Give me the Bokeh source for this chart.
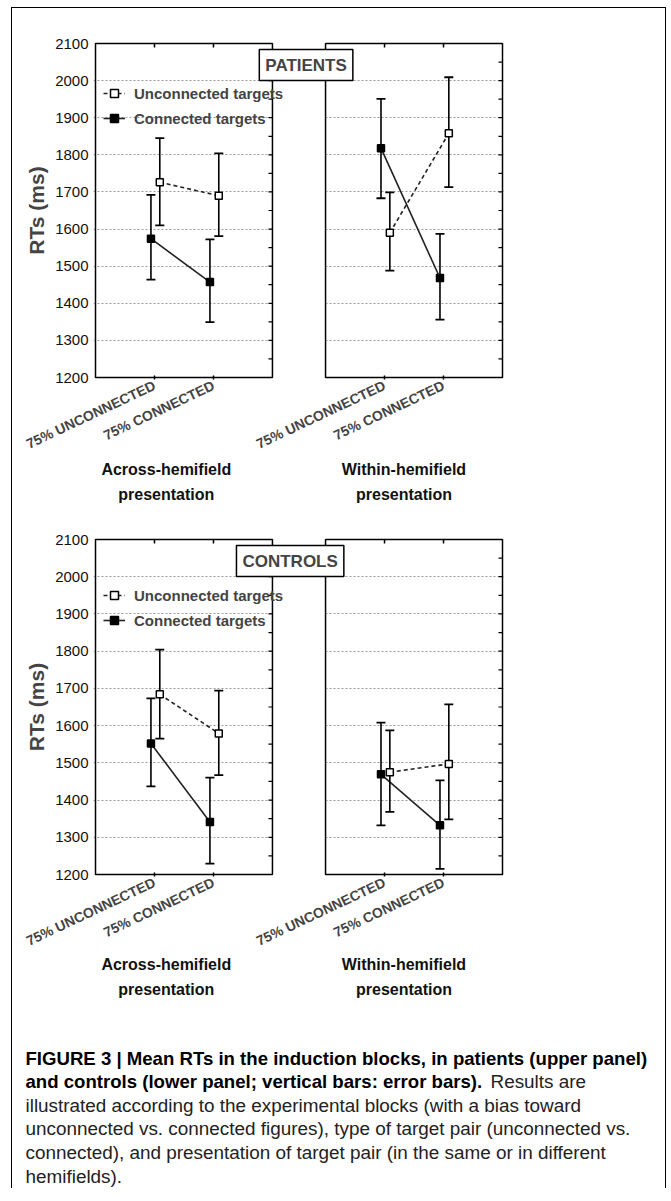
import numpy as np
from bokeh.plotting import figure
from bokeh.models import Range1d, FixedTicker, Label, Legend, LegendItem, LinearAxis
from bokeh.layouts import column
from bokeh.embed import file_html
from bokeh.resources import INLINE

# ---------------- data ----------------
block_labels = ["75% UNCONNECTED", "75% CONNECTED"]
presentation_labels = ["Across-hemifield\npresentation", "Within-hemifield\npresentation"]
series_labels = ["Unconnected targets", "Connected targets"]
group_titles = ["PATIENTS", "CONTROLS"]
y_tick_values = [1200, 1300, 1400, 1500, 1600, 1700, 1800, 1900, 2000, 2100]
grid_values = [1300, 1400, 1500, 1600, 1700, 1800, 1900, 2000]
y_axis_title = "RTs (ms)"

# order: across/75% unconnected, across/75% connected, within/75% unconnected, within/75% connected
pat_unc = [1726, 1690, 1590, 1858]
pat_unc_lo = [1610, 1581, 1488, 1713]
pat_unc_hi = [1845, 1804, 1699, 2009]
pat_con = [1574, 1457, 1818, 1468]
pat_con_lo = [1464, 1349, 1683, 1356]
pat_con_hi = [1692, 1572, 1951, 1587]

ctl_unc = [1684, 1579, 1475, 1497]
ctl_unc_lo = [1565, 1467, 1368, 1348]
ctl_unc_hi = [1804, 1694, 1587, 1657]
ctl_con = [1552, 1341, 1469, 1332]
ctl_con_lo = [1437, 1229, 1332, 1215]
ctl_con_hi = [1673, 1460, 1608, 1453]

caption_lines = [
    ("FIGURE 3 | Mean RTs in the induction blocks, in patients (upper panel)", ""),
    ("and controls (lower panel; vertical bars: error bars).", "Results are"),
    ("", "illustrated according to the experimental blocks (with a bias toward"),
    ("", "unconnected vs. connected figures), type of target pair (unconnected vs."),
    ("", "connected), and presentation of target pair (in the same or in different"),
    ("", "hemifields)."),
]

# ---------------- layout / style ----------------
FONT = "Liberation Sans"
FIG_W = 653
PANEL_W_PX = 407
PAD_PX = 2
LEFT = 81
FRAME_W = PANEL_W_PX + 2 * PAD_PX
RIGHT = FIG_W - LEFT - FRAME_W
X_END = 6.9
LEFT_PANEL = (0.0, 3.0)
RIGHT_PANEL = (3.9, 6.9)
slot_x = [1.0, 2.0, 4.9, 5.9]
pres_x = [1.2, 5.23]
OFF_UNC = 0.09
OFF_CON = -0.06
TITLE_PAD = 6


def make_panel(title, title_x, unc, unc_lo, unc_hi, con, con_lo, con_hi,
               fig_h, top_px, panel_h, pres_standoff, legend_top_px):
    ux = X_END / PANEL_W_PX
    uy = 900.0 / panel_h
    xpad = PAD_PX * ux
    ypad = PAD_PX * uy
    frame_h = panel_h + 2 * PAD_PX
    p = figure(width=FIG_W, height=fig_h,
               x_range=Range1d(-xpad, X_END + xpad),
               y_range=Range1d(1200 - ypad, 2100 + ypad),
               output_backend="svg", toolbar_location=None,
               min_border_left=int(LEFT), min_border_right=int(RIGHT),
               min_border_top=int(top_px - PAD_PX),
               min_border_bottom=int(fig_h - (top_px - PAD_PX) - frame_h))
    p.outline_line_color = None
    p.background_fill_color = "white"
    p.border_fill_color = "white"

    p.xgrid.visible = False
    p.ygrid.ticker = FixedTicker(ticks=grid_values)
    p.ygrid.grid_line_color = "#9c9c9c"
    p.ygrid.grid_line_dash = "2 2"
    p.ygrid.grid_line_width = 1

    ya = p.yaxis[0]
    ya.ticker = FixedTicker(ticks=y_tick_values)
    ya.axis_line_color = None
    ya.major_tick_line_color = None
    ya.minor_tick_line_color = None
    ya.major_tick_out = 0
    ya.major_tick_in = 0
    ya.minor_tick_out = 0
    ya.major_label_standoff = 5
    ya.major_label_text_font = FONT
    ya.major_label_text_font_size = "15px"
    ya.major_label_text_color = "#111111"
    ya.axis_label = y_axis_title
    ya.axis_label_text_font = FONT
    ya.axis_label_text_font_style = "bold"
    ya.axis_label_text_font_size = "21px"
    ya.axis_label_standoff = 4

    xa = p.xaxis[0]
    xa.ticker = FixedTicker(ticks=slot_x)
    xa.major_label_overrides = {slot_x[0]: block_labels[0], slot_x[1]: block_labels[1],
                                slot_x[2]: block_labels[0], slot_x[3]: block_labels[1]}
    xa.major_label_orientation = 0.44
    xa.axis_line_color = None
    xa.major_tick_in = 4
    xa.major_tick_out = 0
    xa.major_tick_line_width = 1.5
    xa.minor_tick_line_color = None
    xa.minor_tick_out = 0
    xa.major_label_standoff = 5
    xa.major_label_text_font = FONT
    xa.major_label_text_font_style = "bold"
    xa.major_label_text_font_size = "14px"

    # second bottom axis carrying the presentation captions
    xa2 = LinearAxis(ticker=FixedTicker(ticks=pres_x),
                     major_label_overrides={pres_x[0]: presentation_labels[0],
                                            pres_x[1]: presentation_labels[1]},
                     axis_line_color=None, major_tick_line_color=None,
                     major_tick_out=0, major_tick_in=0, minor_tick_out=0,
                     minor_tick_line_color=None, major_label_standoff=pres_standoff,
                     major_label_text_font=FONT, major_label_text_font_style="bold",
                     major_label_text_font_size="16px", major_label_text_color="#111111",
                     major_label_text_line_height=1.5)
    p.add_layout(xa2, "below")

    # mask the gap between the two sub-panels
    p.quad(left=[LEFT_PANEL[1]], right=[RIGHT_PANEL[0]], bottom=[1200 - ypad], top=[2100 + ypad],
           fill_color="white", line_color=None)
    # sub-panel frames
    p.quad(left=[LEFT_PANEL[0], RIGHT_PANEL[0]], right=[LEFT_PANEL[1], RIGHT_PANEL[1]],
           bottom=[1200, 1200], top=[2100, 2100], fill_color=None,
           line_color="black", line_width=1.5)
    # small inner ticks on right edges and top edges
    minor_vals = [float(v) for v in np.arange(1250, 2100, 50)]
    for edge in (LEFT_PANEL[1], RIGHT_PANEL[1]):
        p.segment(x0=[edge - 4 * ux] * len(minor_vals), x1=[edge] * len(minor_vals),
                  y0=minor_vals, y1=minor_vals, line_color="black", line_width=1.2)
    p.segment(x0=slot_x, x1=slot_x, y0=[2100] * 4, y1=[2100 - 4 * uy] * 4,
              line_color="black", line_width=1.5)

    xu = [s + OFF_UNC for s in slot_x]
    xc = [s + OFF_CON for s in slot_x]

    lines_unc = []
    lines_con = []
    for k in (0, 1):
        sl = slice(2 * k, 2 * k + 2)
        lines_unc.append(p.line(x=xu[sl], y=unc[sl], line_color="#222222", line_width=1.6,
                                line_dash="4 3"))
        lines_con.append(p.line(x=xc[sl], y=con[sl], line_color="#222222", line_width=1.6))

    # error bars
    p.segment(x0=xu, x1=xu, y0=unc_lo, y1=unc_hi, line_color="black", line_width=1.6)
    p.segment(x0=xc, x1=xc, y0=con_lo, y1=con_hi, line_color="black", line_width=1.6)
    for xs, lo, hi in ((xu, unc_lo, unc_hi), (xc, con_lo, con_hi)):
        p.scatter(x=xs, y=lo, marker="dash", size=9, line_color="black", line_width=1.8)
        p.scatter(x=xs, y=hi, marker="dash", size=9, line_color="black", line_width=1.8)

    m_unc = p.scatter(x=xu, y=unc, marker="square", size=7, fill_color="white",
                      line_color="black", line_width=1.5)
    m_con = p.scatter(x=xc, y=con, marker="square", size=7, fill_color="black",
                      line_color="black", line_width=1.5)

    legend = Legend(items=[LegendItem(label=series_labels[0], renderers=[lines_unc[0], m_unc]),
                           LegendItem(label=series_labels[1], renderers=[lines_con[0], m_con])],
                    location=(10, frame_h - legend_top_px - 45),
                    glyph_width=22, glyph_height=20, label_height=20, spacing=5,
                    padding=0, margin=0, label_standoff=9,
                    border_line_color=None, background_fill_alpha=0,
                    label_text_font=FONT, label_text_font_style="bold",
                    label_text_font_size="15px")
    p.add_layout(legend)

    p.add_layout(Label(x=title_x, y=2100, y_offset=-TITLE_PAD, text=title, text_align="center",
                       text_baseline="top", text_font=FONT, text_font_style="bold",
                       text_font_size="17px", padding=TITLE_PAD, background_fill_color="white",
                       border_line_color="black", border_line_width=1.5))
    return p


top = make_panel(group_titles[0], 3.57, pat_unc, pat_unc_lo, pat_unc_hi,
                 pat_con, pat_con_lo, pat_con_hi,
                 fig_h=500, top_px=35, panel_h=334, pres_standoff=-1, legend_top_px=42)
bottom = make_panel(group_titles[1], 3.30, ctl_unc, ctl_unc_lo, ctl_unc_hi,
                    ctl_con, ctl_con_lo, ctl_con_hi,
                    fig_h=500, top_px=31, panel_h=335, pres_standoff=-3, legend_top_px=48)

CAP_H = 180
cap = figure(width=FIG_W, height=CAP_H, x_range=Range1d(0, FIG_W), y_range=Range1d(CAP_H, 0),
             output_backend="svg", toolbar_location=None, min_border=0,
             x_axis_location=None, y_axis_location=None)
if "frame_align" in cap.properties():
    cap.frame_align = False
cap.outline_line_color = None
cap.xgrid.visible = False
cap.ygrid.visible = False
cap_y0 = 49.5
cap_dy = 23.6
regular_x = {1: 478}
for i, (b, r) in enumerate(caption_lines):
    y = cap_y0 + cap_dy * i
    if b:
        cap.add_layout(Label(x=13, y=y, text=b, text_baseline="middle", text_font=FONT,
                             text_font_style="bold", text_font_size="18.6px", text_color="black"))
    if r:
        cap.add_layout(Label(x=regular_x.get(i, 13), y=y, text=r, text_baseline="middle",
                             text_font=FONT, text_font_size="18.9px", text_color="#222222"))

layout = column(top, bottom, cap, margin=(7, 0, 0, 11),
                styles={"border-left": "1.5px solid black", "border-right": "1.5px solid black",
                        "border-top": "1.5px solid black"})

open("out.html", "w").write(file_html(layout, INLINE))
